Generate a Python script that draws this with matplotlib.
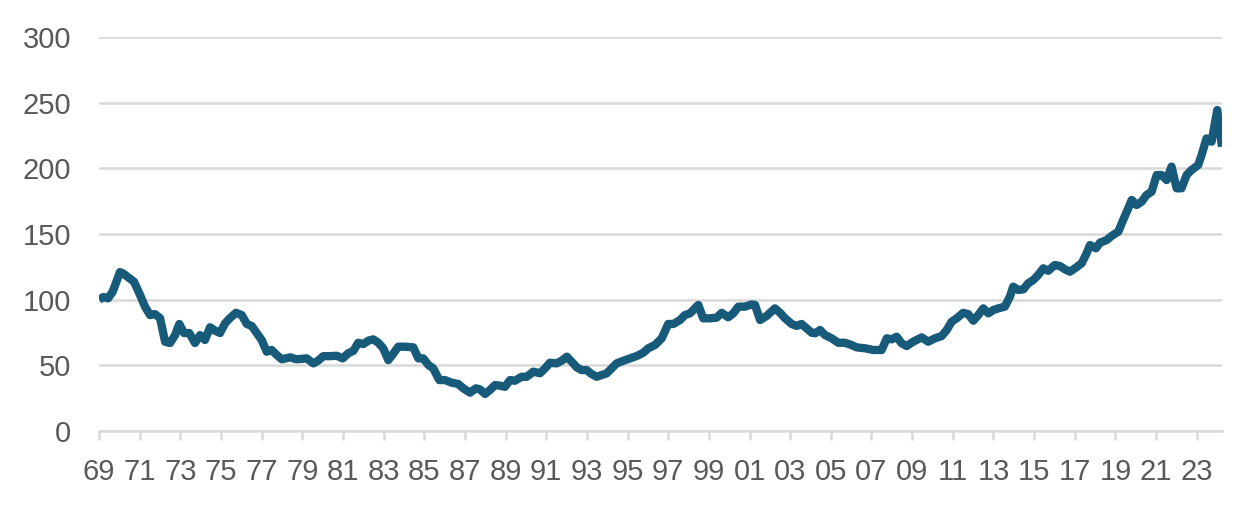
import matplotlib
matplotlib.use('Agg')
import matplotlib.pyplot as plt

# index values (decimal year, level)
years = [
    1969.00, 1969.21, 1969.44, 1969.67, 1970.03, 1970.18, 1970.48, 1970.72,
    1971.02, 1971.26, 1971.51, 1971.75, 1972.00, 1972.25, 1972.49, 1972.74,
    1972.95, 1973.18, 1973.44, 1973.72, 1973.97, 1974.21, 1974.46, 1974.71,
    1974.95, 1975.20, 1975.44, 1975.74, 1976.02, 1976.27, 1976.51, 1976.76,
    1977.00, 1977.25, 1977.49, 1977.74, 1977.99, 1978.40, 1978.72, 1979.22,
    1979.54, 1979.77, 1980.03, 1980.36, 1980.69, 1980.99, 1981.26, 1981.51,
    1981.75, 1982.00, 1982.25, 1982.49, 1982.74, 1982.98, 1983.23, 1983.48,
    1983.72, 1984.05, 1984.46, 1984.71, 1984.95, 1985.20, 1985.44, 1985.74,
    1986.02, 1986.35, 1986.67, 1986.92, 1987.25, 1987.54, 1987.74, 1987.99,
    1988.23, 1988.48, 1988.72, 1988.97, 1989.22, 1989.46, 1989.79, 1990.04,
    1990.36, 1990.69, 1990.94, 1991.18, 1991.51, 1991.76, 1992.01, 1992.25,
    1992.50, 1992.74, 1992.99, 1993.23, 1993.48, 1993.73, 1993.97, 1994.22,
    1994.46, 1994.79, 1995.12, 1995.45, 1995.77, 1996.02, 1996.35, 1996.68,
    1997.00, 1997.25, 1997.58, 1997.82, 1998.07, 1998.48, 1998.72, 1999.05,
    1999.38, 1999.63, 1999.95, 2000.20, 2000.45, 2000.78, 2001.10, 2001.27,
    2001.52, 2001.84, 2002.25, 2002.50, 2002.75, 2003.07, 2003.32, 2003.56,
    2003.81, 2004.06, 2004.22, 2004.47, 2004.71, 2005.04, 2005.37, 2005.69,
    2006.02, 2006.27, 2006.68, 2007.09, 2007.50, 2007.75, 2007.99, 2008.24,
    2008.48, 2008.73, 2009.05, 2009.47, 2009.79, 2010.12, 2010.45, 2010.70,
    2010.94, 2011.19, 2011.51, 2011.76, 2012.01, 2012.25, 2012.50, 2012.75,
    2012.99, 2013.24, 2013.56, 2013.81, 2013.97, 2014.22, 2014.47, 2014.71,
    2014.96, 2015.20, 2015.45, 2015.69, 2016.02, 2016.27, 2016.52, 2016.76,
    2017.01, 2017.34, 2017.58, 2017.75, 2018.04, 2018.24, 2018.57, 2018.81,
    2019.14, 2019.38, 2019.63, 2019.80, 2020.04, 2020.29, 2020.53, 2020.78,
    2021.03, 2021.27, 2021.52, 2021.76, 2022.01, 2022.25, 2022.50, 2022.74,
    2023.07, 2023.24, 2023.48, 2023.73, 2024.01, 2024.24,
]
values = [
    100, 102, 101, 106, 121, 120, 116.5, 113.7,
    103.5, 94.7, 88.3, 89, 86, 68, 67, 73,
    81.5, 74.6, 74.6, 67, 73, 69.3, 79, 76.4,
    74.6, 82, 86, 90, 88.3, 81.5, 80, 74.6,
    69.3, 60.4, 61.7, 57.9, 54.6, 56.1, 54.6, 55.3,
    51.5, 53.5, 57, 57, 57.3, 55.3, 59.2, 61,
    67.2, 66.2, 68.8, 69.8, 67.2, 63, 54, 59,
    64.2, 64.2, 63.7, 55.3, 55.3, 50.3, 47.7, 38.8,
    38.8, 36.8, 35.8, 32.5, 29.2, 32.5, 31.7, 28.2,
    31.2, 35, 34.5, 33.7, 38.8, 38.3, 41.3, 41.3,
    45.2, 44, 47.7, 52, 51.5, 53.5, 56.6, 52.8,
    48.5, 46.4, 46.4, 43.4, 41.3, 42.6, 43.9, 47.7,
    51.5, 53.5, 55.3, 57.1, 59.6, 63, 65.5, 70.6,
    81.5, 81.5, 84.5, 88.3, 89.6, 96, 85.8, 85.8,
    86.3, 90, 86.6, 89.6, 94.7, 94.7, 96.4, 96,
    84.5, 87.6, 93.4, 90, 85.8, 81.5, 80, 81.5,
    78.2, 74.8, 74.4, 76.9, 73.1, 70.6, 67.2, 67.2,
    65.5, 63.7, 63, 61.7, 61.7, 70.6, 69.8, 71.8,
    66.8, 64.7, 68, 71.3, 68, 70.6, 72.3, 76.9,
    83.2, 85.8, 90, 89, 84, 88.3, 93.4, 89.6,
    92.1, 93.4, 94.7, 102.3, 109.9, 107.4, 107.9, 112.5,
    115, 118.8, 123.9, 122, 126.4, 125.6, 123.1, 121.3,
    123.9, 127.7, 135.3, 141.6, 139.1, 143.4, 145.4, 148.5,
    151.8, 160.7, 169.6, 175.9, 172.1, 174.6, 179.7, 182.2,
    194.9, 194.9, 191.1, 201.3, 184.8, 184.8, 194.9, 198.7,
    202.5, 210.2, 222.8, 220.3, 244.4, 216.5,
]

tick_years = list(range(1969, 2024, 2))
tick_labels = ['%02d' % (y % 100) for y in tick_years]
y_ticks = [0, 50, 100, 150, 200, 250, 300]

plt.rcParams['font.family'] = ['Liberation Sans', 'DejaVu Sans']

fig = plt.figure(figsize=(12.6, 5.09), dpi=100)
ax = fig.add_axes([0.0786, 0.1532, 0.8912, 0.7741])

ax.plot(years, values, color='#185a7a', lw=6, solid_joinstyle='round',
        solid_capstyle='butt', zorder=3)

ax.set_xlim(1969, years[-1])
ax.set_ylim(0, 300)
ax.set_yticks(y_ticks)
ax.set_xticks(tick_years)
ax.set_xticklabels(tick_labels)

ax.grid(axis='y', color='#d9d9d9', lw=1.8)
ax.set_axisbelow(True)
for s in ['top', 'right', 'left']:
    ax.spines[s].set_visible(False)
ax.spines['bottom'].set_color('#d9d9d9')
ax.spines['bottom'].set_linewidth(1.8)

ax.tick_params(axis='y', length=0, pad=20, labelsize=21, labelcolor='#595959')
ax.tick_params(axis='x', length=6.5, width=1.8, color='#d9d9d9', pad=13,
               labelsize=21, labelcolor='#595959')

fig.savefig('out.png', dpi=100)
